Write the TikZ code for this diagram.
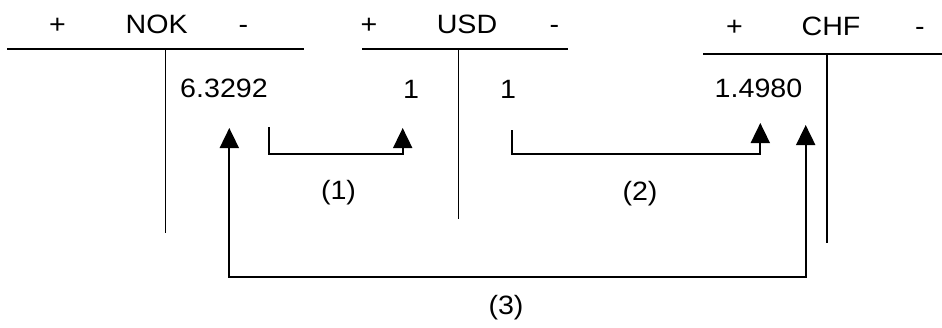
\documentclass[tikz,border=0pt]{standalone}
\usepackage{fontspec}
\setmainfont[FakeStretch=1.08]{Liberation Sans}
\usetikzlibrary{arrows.meta}
\begin{document}
\begin{tikzpicture}[x=1pt,y=-1pt,
  lbl/.style={anchor=base,inner sep=0pt,font=\fontsize{26.5}{30}\selectfont},
  tline/.style={line width=1.8pt},
  flow/.style={line width=1.8pt,-{Triangle[length=20pt,width=19pt]}},
  flowboth/.style={line width=1.8pt,{Triangle[length=20pt,width=19pt]}-{Triangle[length=20pt,width=19pt]}}]
\useasboundingbox (0,0) rectangle (942,327);
% NOK account
\node[lbl] (nokp) at (57.5,33) {+};
\node[lbl] (nok) at (156.7,33) {NOK};
\node[lbl] (nokm) at (243.5,33) {-};
\draw[tline] (7,49) -- (304,49);
\draw[tline] (165.5,49) -- (165.5,233);
\node[lbl] (nokv) at (224,97) {6.3292};
% USD account
\node[lbl] (usdp) at (369,33) {+};
\node[lbl] (usd) at (467,33) {USD};
\node[lbl] (usdm) at (554.5,33) {-};
\draw[tline] (362,49) -- (568,49);
\draw[tline] (458.5,49) -- (458.5,219);
\node[lbl] (usdl) at (411,98) {1};
\node[lbl] (usdr) at (508,98) {1};
% CHF account
\node[lbl] (chfp) at (734.5,35) {+};
\node[lbl] (chf) at (831,35) {CHF};
\node[lbl] (chfm) at (920,35) {-};
\draw[tline] (703,54) -- (942,54);
\draw[tline] (827,54) -- (827,243);
\node[lbl] (chfv) at (758.5,97) {1.4980};
% arrow end points
\coordinate (a1s) at (269.3,127);
\coordinate (a1e) at (402.7,128);
\coordinate (a2s) at (511.7,130);
\coordinate (a2e) at (760.3,123);
\coordinate (a3s) at (805.7,125);
\coordinate (a3e) at (229.3,128);
\draw[flow] (a1s) -- (269.3,154) -| (a1e);
\draw[flow] (a2s) -- (511.7,154) -| (a2e);
\draw[flowboth] (a3s) -- (805.7,276.7) -| (a3e);
\node[lbl] (l1) at (338.5,199.5) {(1)};
\node[lbl] (l2) at (640,200) {(2)};
\node[lbl] (l3) at (506,314.5) {(3)};
\end{tikzpicture}
\end{document}
